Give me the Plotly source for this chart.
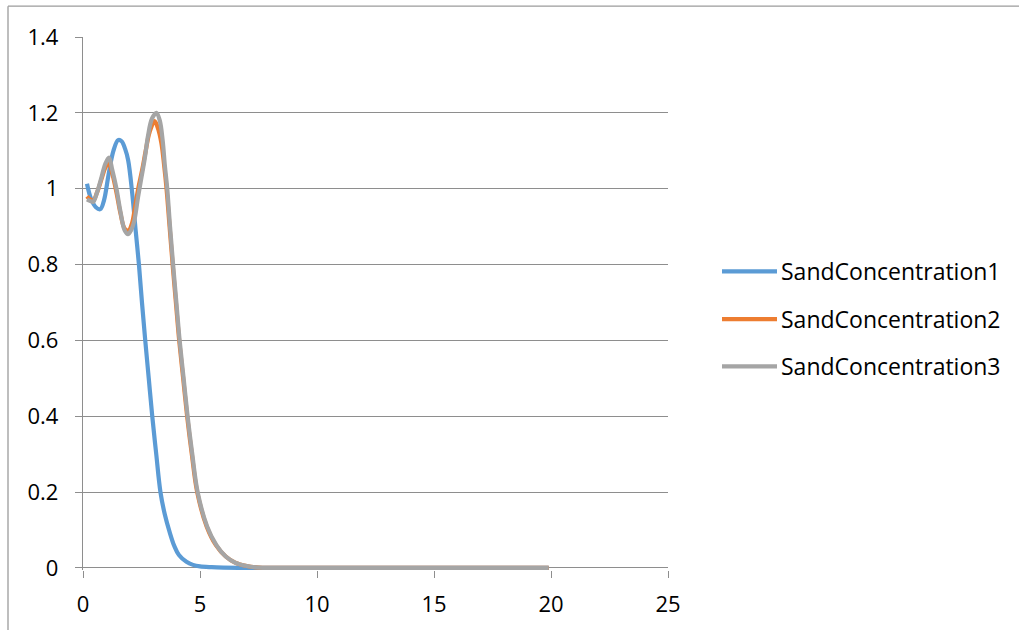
import plotly.graph_objects as go

# Sand concentration profiles (distance vs. concentration)
x_sand1 = [0.17, 0.35, 0.55, 0.74, 0.9, 1.1, 1.3, 1.5, 1.65, 1.8, 1.93, 2.1, 2.25, 2.39,
           2.52, 2.66, 2.81, 2.96, 3.13, 3.31, 3.5, 3.7, 3.9, 4.1, 4.42, 4.7, 5.0, 5.5,
           6.0, 7.0, 8.0, 10.0, 12.0, 14.0, 16.0, 18.0, 19.9]
y_sand1 = [1.013, 0.972, 0.951, 0.946, 0.97, 1.04, 1.10, 1.128, 1.125, 1.105, 1.075, 0.99, 0.89, 0.8,
           0.7, 0.6, 0.5, 0.4, 0.3, 0.2, 0.14, 0.095, 0.058, 0.034, 0.016, 0.008, 0.004, 0.002,
           0.001, 0.0, 0.0, 0.0, 0.0, 0.0, 0.0, 0.0, 0.0]

x_sand2 = [0.17, 0.3, 0.43, 0.6, 0.79, 0.95, 1.1, 1.25, 1.43, 1.6, 1.78, 1.95, 2.1, 2.22, 2.36,
           2.53, 2.68, 2.85, 3.06, 3.2, 3.35, 3.47, 3.57, 3.7, 3.83, 3.97, 4.11, 4.28, 4.45,
           4.65, 4.88, 5.28, 5.68, 6.1, 6.5, 7.0, 7.5, 8.0, 10.0, 12.0, 14.0, 16.0, 18.0, 19.9]
y_sand2 = [0.98, 0.972, 0.968, 0.99, 1.025, 1.055, 1.068, 1.04, 0.99, 0.935, 0.895, 0.89, 0.91, 0.95, 1.0,
           1.05, 1.1, 1.15, 1.178, 1.16, 1.12, 1.06, 1.0, 0.9, 0.8, 0.7, 0.6, 0.5, 0.4,
           0.3, 0.2, 0.11, 0.06, 0.03, 0.014, 0.005, 0.001, 0.0, 0.0, 0.0, 0.0, 0.0, 0.0, 0.0]

x_sand3 = [0.17, 0.3, 0.43, 0.6, 0.79, 0.95, 1.11, 1.25, 1.43, 1.6, 1.78, 1.92, 2.05, 2.19, 2.35,
           2.47, 2.64, 2.78, 2.95, 3.14, 3.28, 3.4, 3.5, 3.6, 3.72, 3.85, 3.99, 4.13, 4.3,
           4.47, 4.67, 4.9, 5.3, 5.7, 6.1, 6.5, 7.0, 7.5, 8.0, 10.0, 12.0, 14.0, 16.0, 18.0, 19.9]
y_sand3 = [0.972, 0.968, 0.965, 0.99, 1.03, 1.065, 1.082, 1.05, 1.0, 0.94, 0.89, 0.88, 0.89, 0.915, 0.977,
           1.02, 1.08, 1.14, 1.185, 1.2, 1.18, 1.13, 1.06, 1.0, 0.9, 0.8, 0.7, 0.6, 0.5,
           0.4, 0.3, 0.2, 0.11, 0.06, 0.03, 0.014, 0.005, 0.001, 0.0, 0.0, 0.0, 0.0, 0.0, 0.0, 0.0]

series_names = ["SandConcentration1", "SandConcentration2", "SandConcentration3"]
series_colors = ["#5B9BD5", "#ED7D31", "#A5A5A5"]
series_x = [x_sand1, x_sand2, x_sand3]
series_y = [y_sand1, y_sand2, y_sand3]

x_ticks = [0, 5, 10, 15, 20, 25]
y_ticks = [0, 0.2, 0.4, 0.6, 0.8, 1, 1.2, 1.4]

W, H = 1019, 630
ML, MR, MT, MB = 83, 351, 37, 57
FONT = "Open Sans"
GRID = "#8e8e8e"


def paper_x(px):
    return (px - ML) / (W - ML - MR)


def paper_y(py):
    return (H - MB - py) / (H - MT - MB)


fig = go.Figure()
for name, color, xs, ys in zip(series_names, series_colors, series_x, series_y):
    fig.add_trace(go.Scatter(
        x=xs, y=ys, name=name, mode="lines",
        line=dict(color=color, width=4.2, shape="spline", smoothing=1.0),
        hoverinfo="x+y+name",
    ))

axis_font = dict(family=FONT, size=22, color="#000000")

fig.update_xaxes(
    range=[0, 25], tickvals=x_ticks, showgrid=False, zeroline=False,
    showline=False, ticks="outside", ticklen=7, tickwidth=1.4, tickcolor=GRID,
    tickfont=axis_font, ticklabelstandoff=8, layer="below traces",
)
fig.update_yaxes(
    range=[-0.0055, 1.4], tickvals=y_ticks, showgrid=True, gridcolor=GRID, gridwidth=1.4,
    zeroline=True, zerolinecolor=GRID, zerolinewidth=1.4,
    showline=True, linecolor=GRID, linewidth=1.4,
    ticks="outside", ticklen=7, tickwidth=1.4, tickcolor=GRID,
    tickfont=axis_font, ticklabelstandoff=12, layer="below traces",
)

shapes = [
    # outer chart frame (left and top edges)
    dict(type="line", xref="paper", yref="paper",
         x0=paper_x(8), x1=paper_x(8), y0=paper_y(6), y1=paper_y(H + 5),
         line=dict(color="#9b9b9b", width=1.3)),
    dict(type="line", xref="paper", yref="paper",
         x0=paper_x(8), x1=paper_x(W + 5), y0=paper_y(6), y1=paper_y(6),
         line=dict(color="#9b9b9b", width=1.3)),
]
annotations = []
legend_rows = [272.7, 320.7, 368.3]
for name, color, row in zip(series_names, series_colors, legend_rows):
    shapes.append(dict(type="line", xref="paper", yref="paper",
                       x0=paper_x(722), x1=paper_x(777), y0=paper_y(row), y1=paper_y(row),
                       line=dict(color=color, width=4.2)))
    annotations.append(dict(x=paper_x(779), y=paper_y(row), xref="paper", yref="paper",
                            text=name, showarrow=False, xanchor="left", yanchor="middle",
                            font=dict(family=FONT, size=23, color="#000000")))

fig.update_layout(
    width=W, height=H,
    margin=dict(l=ML, r=MR, t=MT, b=MB),
    plot_bgcolor="white", paper_bgcolor="white",
    showlegend=False,
    shapes=shapes, annotations=annotations,
)

fig.write_html("out.html")
